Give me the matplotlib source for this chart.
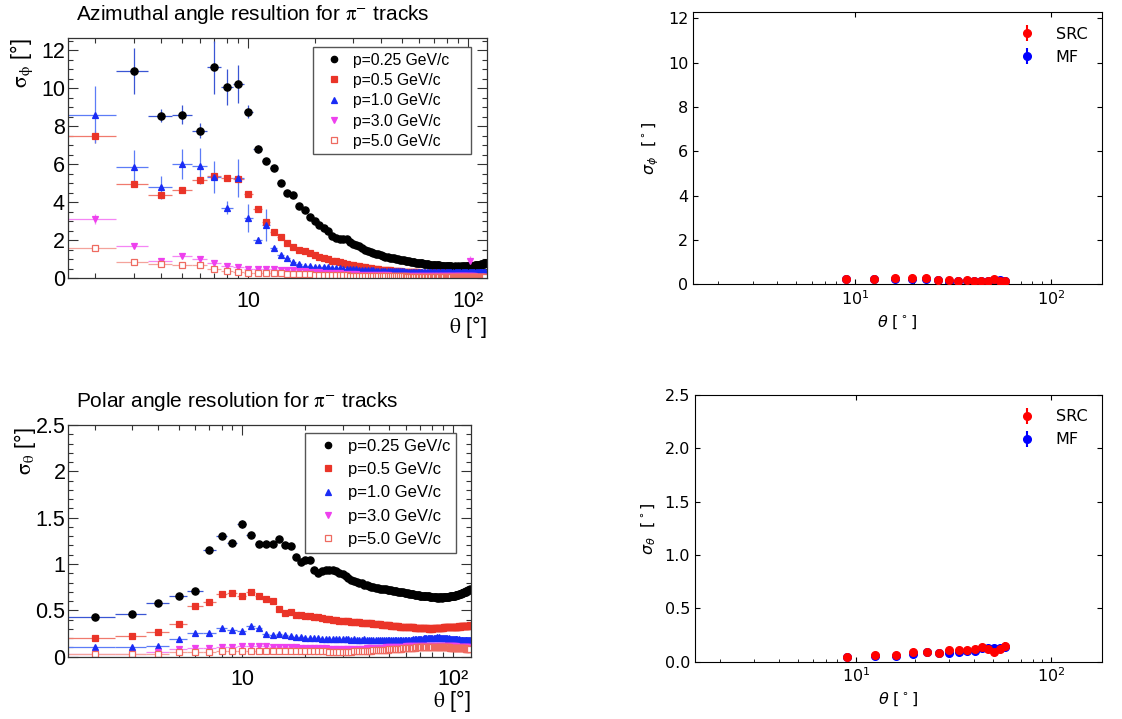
import numpy as np
import matplotlib
matplotlib.use('Agg')
import matplotlib.pyplot as plt
from matplotlib.lines import Line2D
from matplotlib.ticker import (FixedLocator, LogLocator, MultipleLocator,
                               FuncFormatter, NullFormatter)

# ---------------- left column: pi- resolution vs theta (1 deg bins) ----------------
theta_bins = list(range(2, 121))
momenta = ['p=0.25 GeV/c', 'p=0.5 GeV/c', 'p=1.0 GeV/c', 'p=3.0 GeV/c', 'p=5.0 GeV/c']

nan = float('nan')

# azimuthal resolution sigma_phi [deg]
phi_p025 = [nan, 10.9, 8.55, 8.6, 7.75, 11.1, 10.05, 10.2, 8.75, 6.8,
            6.15, 5.77, 5.0, 4.45, 4.35, 3.8, 3.6, 3.2, 3.0, 2.8,
            2.65, 2.45, 2.2, 2.12, 2.08, 2.06, 2.03, 1.92, 1.79, 1.73,
            1.66, 1.58, 1.47, 1.42, 1.38, 1.33, 1.28, 1.24, 1.2, 1.15,
            1.12, 1.1, 1.08, 1.05, 1.03, 1.0, 0.98, 0.96, 0.95, 0.93,
            0.91, 0.89, 0.88, 0.86, 0.85, 0.83, 0.81, 0.8, 0.79, 0.78,
            0.77, 0.75, 0.74, 0.73, 0.72, 0.71, 0.7, 0.69, 0.68, 0.68,
            0.67, 0.66, 0.66, 0.65, 0.64, 0.64, 0.63, 0.63, 0.62, 0.62,
            0.61, 0.61, 0.61, 0.6, 0.6, 0.61, 0.6, 0.6, 0.61, 0.6,
            0.6, 0.61, 0.6, 0.61, 0.61, 0.6, 0.61, 0.62, 0.61, 0.62,
            0.62, 0.63, 0.63, 0.64, 0.64, 0.65, 0.66, 0.66, 0.67, 0.68,
            0.69, 0.7, 0.71, 0.72, 0.73, 0.75, 0.76, 0.78, 0.8]
phi_p05 = [7.45, 4.97, 4.37, 4.62, 5.16, 5.35, 5.25, 5.23, 4.42, 3.62,
           2.96, 2.43, 2.15, 1.85, 1.62, 1.5, 1.4, 1.3, 1.2, 1.12,
           1.05, 0.98, 0.92, 0.88, 0.83, 0.78, 0.74, 0.7, 0.67, 0.64,
           0.61, 0.58, 0.56, 0.53, 0.51, 0.49, 0.47, 0.46, 0.44, 0.43,
           0.42, 0.41, 0.4, 0.39, 0.38, 0.37, 0.36, 0.35, 0.34, 0.34,
           0.33, 0.33, 0.32, 0.32, 0.31, 0.31, 0.3, 0.3, 0.29, 0.29,
           0.29, 0.28, 0.28, 0.28, 0.27, 0.27, 0.27, 0.26, 0.26, 0.26,
           0.26, 0.25, 0.25, 0.25, 0.25, 0.24, 0.24, 0.24, 0.24, 0.24,
           0.23, 0.23, 0.23, 0.23, 0.23, 0.23, 0.22, 0.22, 0.22, 0.22,
           0.22, 0.22, 0.22, 0.22, 0.21, 0.21, 0.21, 0.21, 0.21, 0.21,
           0.21, 0.21, 0.21, 0.21, 0.2, 0.2, 0.2, 0.2, 0.2, 0.2,
           0.2, 0.2, 0.2, 0.2, 0.2, 0.2, 0.2, 0.2, 0.2]
phi_p10 = [8.6, 5.85, 4.77, 6.0, 5.9, 5.3, 3.7, 5.25, 3.15, 2.0,
           2.8, 1.56, 1.21, 1.04, 0.86, 0.72, 0.65, 0.63, 0.6, 0.58,
           0.57, 0.56, 0.55, 0.54, 0.52, 0.5, 0.49, 0.47, 0.46, 0.45,
           0.44, 0.43, 0.42, 0.41, 0.4, 0.4, 0.39, 0.39, 0.38, 0.38,
           0.37, 0.37, 0.37, 0.36, 0.36, 0.36, 0.35, 0.35, 0.35, 0.35,
           0.34, 0.34, 0.34, 0.34, 0.33, 0.33, 0.33, 0.33, 0.33, 0.32,
           0.32, 0.32, 0.32, 0.32, 0.32, 0.31, 0.31, 0.31, 0.31, 0.31,
           0.31, 0.31, 0.31, 0.31, 0.3, 0.3, 0.3, 0.3, 0.3, 0.3,
           0.3, 0.31, 0.3, 0.3, 0.29, 0.3, 0.3, 0.31, 0.3, 0.3,
           0.3, 0.29, 0.3, 0.3, 0.31, 0.3, 0.3, 0.3, 0.29, 0.3,
           0.3, 0.3, 0.31, 0.3, 0.3, 0.3, 0.29, 0.3, 0.3, 0.3,
           0.3, 0.3, 0.31, 0.3, 0.3, 0.3, 0.3, 0.3, 0.3]
phi_p30 = [3.1, 1.7, 0.91, 1.18, 1.02, 0.77, 0.63, 0.56, 0.49, 0.49,
           0.49, 0.46, 0.44, 0.42, 0.4, 0.38, 0.36, 0.34, 0.32, 0.3,
           0.28, 0.27, 0.26, 0.25, 0.24, 0.23, 0.22, 0.21, 0.2, 0.19,
           0.18, 0.18, 0.17, 0.17, 0.16, 0.16, 0.15, 0.15, 0.15, 0.14,
           0.14, 0.14, 0.13, 0.13, 0.13, 0.13, 0.12, 0.12, 0.12, 0.12,
           0.12, 0.11, 0.11, 0.11, 0.11, 0.11, 0.11, 0.1, 0.1, 0.1,
           0.1, 0.1, 0.1, 0.1, 0.1, 0.1, 0.1, 0.1, 0.1, 0.1,
           0.1, 0.1, 0.1, 0.1, 0.1, 0.1, 0.1, 0.1, 0.1, 0.1,
           0.1, 0.1, 0.09, 0.1, 0.09, 0.1, 0.09, 0.09, 0.1, 0.09,
           0.09, 0.09, 0.09, 0.09, 0.09, 0.09, 0.09, 0.09, 0.09, 0.09,
           0.9, 0.09, 0.09, 0.09, 0.08, 0.09, 0.08, 0.08, 0.08, 0.08,
           0.08, 0.08, 0.08, 0.08, 0.08, 0.08, 0.08, 0.08, 0.08]
phi_p50 = [1.6, 0.86, 0.75, 0.68, 0.67, 0.46, 0.35, 0.3, 0.25, 0.25,
           0.28, 0.25, 0.24, 0.23, 0.22, 0.21, 0.2, 0.19, 0.18, 0.17,
           0.16, 0.16, 0.15, 0.15, 0.14, 0.14, 0.14, 0.13, 0.13, 0.13,
           0.12, 0.12, 0.12, 0.11, 0.11, 0.11, 0.11, 0.1, 0.1, 0.1,
           0.1, 0.1, 0.1, 0.09, 0.09, 0.09, 0.09, 0.09, 0.09, 0.09,
           0.09, 0.08, 0.08, 0.08, 0.08, 0.08, 0.08, 0.08, 0.08, 0.08,
           0.08, 0.08, 0.08, 0.08, 0.08, 0.08, 0.08, 0.08, 0.07, 0.08,
           0.07, 0.08, 0.07, 0.07, 0.07, 0.07, 0.07, 0.07, 0.07, 0.07,
           0.07, 0.07, 0.07, 0.07, 0.07, 0.07, 0.07, 0.07, 0.07, 0.07,
           0.07, 0.07, 0.07, 0.07, 0.06, 0.07, 0.07, 0.06, 0.07, 0.06,
           0.06, 0.06, 0.06, 0.06, 0.06, 0.06, 0.06, 0.06, 0.06, 0.06,
           0.06, 0.06, 0.06, 0.06, 0.06, 0.06, 0.06, 0.06, 0.06]
# vertical errors read for the low-theta bins; later bins are too small to see
phi_err_head = [
    [nan, 1.2, 0.35, 0.5, 0.4, 1.4, 0.95, 1.0, 0.35, 0.2, 0.15, 0.1],
    [0.35, 0.2, 0.15, 0.1, 0.15, 0.15, 0.1, 0.1, 0.1, 0.1, 0.1],
    [1.5, 0.9, 0.6, 0.8, 0.95, 0.85, 0.35, 1.0, 0.75, 0.15, 0.85, 0.1],
    [0.25, 0.1, 0.08, 0.1, 0.08],
    [0.1, 0.05],
]
phi_err_tail = [0.05, 0.03, 0.03, 0.03, 0.03]
phi_outlier_err = (102, 0.25)   # p=3.0 point at theta=102

# polar resolution sigma_theta [deg]
th_p025 = [0.432, 0.457, 0.58, 0.66, 0.71, 1.15, 1.3, 1.23, 1.43, 1.31,
           1.22, 1.22, 1.22, 1.27, 1.21, 1.19, 1.08, 1.025, 1.04, 1.04,
           0.93, 0.9, 0.92, 0.935, 0.93, 0.94, 0.925, 0.9, 0.89, 0.87,
           0.85, 0.83, 0.82, 0.81, 0.8, 0.79, 0.775, 0.77, 0.76, 0.755,
           0.75, 0.745, 0.74, 0.735, 0.73, 0.73, 0.725, 0.72, 0.72, 0.715,
           0.71, 0.71, 0.705, 0.7, 0.7, 0.7, 0.695, 0.69, 0.69, 0.685,
           0.68, 0.68, 0.675, 0.675, 0.67, 0.67, 0.665, 0.665, 0.66, 0.66,
           0.66, 0.655, 0.655, 0.65, 0.65, 0.65, 0.645, 0.645, 0.64, 0.64,
           0.64, 0.64, 0.635, 0.64, 0.635, 0.64, 0.64, 0.635, 0.64, 0.64,
           0.64, 0.645, 0.64, 0.645, 0.645, 0.65, 0.65, 0.655, 0.655, 0.66,
           0.66, 0.665, 0.665, 0.67, 0.67, 0.675, 0.68, 0.68, 0.685, 0.69,
           0.69, 0.695, 0.7, 0.7, 0.705, 0.71, 0.715, 0.72, 0.725]
th_p05 = [0.2, 0.22, 0.266, 0.35, 0.547, 0.59, 0.68, 0.69, 0.66, 0.7,
          0.655, 0.62, 0.6, 0.51, 0.47, 0.48, 0.45, 0.45, 0.44, 0.435,
          0.43, 0.425, 0.42, 0.41, 0.405, 0.4, 0.395, 0.39, 0.39, 0.385,
          0.38, 0.375, 0.375, 0.37, 0.37, 0.365, 0.365, 0.36, 0.36, 0.36,
          0.355, 0.355, 0.35, 0.35, 0.345, 0.345, 0.34, 0.34, 0.34, 0.335,
          0.335, 0.33, 0.33, 0.33, 0.325, 0.325, 0.325, 0.32, 0.32, 0.32,
          0.315, 0.315, 0.315, 0.315, 0.31, 0.31, 0.31, 0.31, 0.31, 0.305,
          0.305, 0.305, 0.305, 0.305, 0.305, 0.3, 0.3, 0.305, 0.3, 0.305,
          0.305, 0.305, 0.305, 0.31, 0.305, 0.31, 0.31, 0.31, 0.31, 0.315,
          0.315, 0.315, 0.315, 0.32, 0.315, 0.32, 0.32, 0.32, 0.32, 0.325,
          0.32, 0.325, 0.325, 0.325, 0.325, 0.33, 0.325, 0.33, 0.33, 0.33,
          0.33, 0.33, 0.335, 0.33, 0.335, 0.335, 0.335, 0.335, 0.34]
th_p10 = [0.104, 0.108, 0.12, 0.19, 0.26, 0.25, 0.305, 0.29, 0.28, 0.335,
          0.305, 0.245, 0.235, 0.245, 0.23, 0.22, 0.215, 0.21, 0.205, 0.2,
          0.2, 0.2, 0.195, 0.195, 0.195, 0.19, 0.19, 0.19, 0.19, 0.19,
          0.19, 0.185, 0.19, 0.185, 0.185, 0.185, 0.19, 0.185, 0.185, 0.185,
          0.185, 0.18, 0.185, 0.18, 0.18, 0.18, 0.18, 0.18, 0.18, 0.18,
          0.18, 0.18, 0.175, 0.18, 0.175, 0.18, 0.18, 0.18, 0.18, 0.185,
          0.185, 0.185, 0.185, 0.19, 0.19, 0.19, 0.19, 0.195, 0.195, 0.195,
          0.195, 0.2, 0.2, 0.2, 0.2, 0.2, 0.205, 0.2, 0.205, 0.205,
          0.205, 0.205, 0.21, 0.205, 0.21, 0.205, 0.205, 0.2, 0.205, 0.2,
          0.2, 0.2, 0.2, 0.195, 0.2, 0.195, 0.195, 0.195, 0.19, 0.195,
          0.19, 0.19, 0.19, 0.19, 0.185, 0.19, 0.185, 0.185, 0.185, 0.185,
          0.185, 0.18, 0.18, 0.18, 0.18, 0.18, 0.18, 0.18, 0.18]
th_p30 = [0.03, 0.03, 0.045, 0.08, 0.09, 0.095, 0.1, 0.1, 0.11, 0.11,
          0.12, 0.11, 0.105, 0.1, 0.1, 0.1, 0.1, 0.095, 0.095, 0.095,
          0.09, 0.09, 0.09, 0.09, 0.085, 0.085, 0.085, 0.085, 0.08, 0.08,
          0.08, 0.08, 0.08, 0.085, 0.085, 0.085, 0.085, 0.09, 0.09, 0.09,
          0.09, 0.09, 0.095, 0.095, 0.095, 0.095, 0.1, 0.1, 0.1, 0.1,
          0.1, 0.1, 0.1, 0.105, 0.105, 0.105, 0.105, 0.105, 0.11, 0.11,
          0.11, 0.11, 0.11, 0.11, 0.115, 0.115, 0.115, 0.115, 0.115, 0.12,
          0.12, 0.12, 0.12, 0.12, 0.12, 0.12, 0.12, 0.12, 0.12, 0.12,
          0.12, 0.12, 0.12, 0.12, 0.12, 0.12, 0.12, 0.12, 0.115, 0.115,
          0.115, 0.115, 0.115, 0.115, 0.115, 0.11, 0.11, 0.11, 0.11, 0.11,
          0.11, 0.11, 0.105, 0.105, 0.105, 0.105, 0.105, 0.1, 0.1, 0.1,
          0.1, 0.1, 0.1, 0.1, 0.1, 0.1, 0.1, 0.1, 0.1]
th_p50 = [0.03, 0.03, 0.03, 0.045, 0.055, 0.055, 0.06, 0.06, 0.065, 0.065,
          0.065, 0.065, 0.065, 0.065, 0.065, 0.065, 0.06, 0.06, 0.06, 0.06,
          0.06, 0.06, 0.06, 0.06, 0.055, 0.055, 0.055, 0.055, 0.055, 0.055,
          0.055, 0.055, 0.06, 0.06, 0.06, 0.06, 0.065, 0.065, 0.065, 0.065,
          0.07, 0.07, 0.07, 0.07, 0.075, 0.075, 0.075, 0.075, 0.08, 0.08,
          0.08, 0.08, 0.085, 0.085, 0.085, 0.085, 0.09, 0.09, 0.09, 0.09,
          0.09, 0.095, 0.095, 0.095, 0.095, 0.1, 0.1, 0.1, 0.1, 0.1,
          0.1, 0.1, 0.105, 0.105, 0.105, 0.105, 0.105, 0.105, 0.105, 0.105,
          0.105, 0.105, 0.105, 0.105, 0.105, 0.1, 0.1, 0.1, 0.1, 0.1,
          0.1, 0.1, 0.1, 0.1, 0.1, 0.095, 0.095, 0.095, 0.095, 0.095,
          0.095, 0.095, 0.09, 0.09, 0.09, 0.09, 0.09, 0.09, 0.09, 0.09,
          0.09, 0.09, 0.09, 0.085, 0.085, 0.085, 0.085, 0.085, 0.085]
th_err_head = [
    [0.015, 0.015, 0.015, 0.02, 0.02, 0.025, 0.03, 0.03, 0.04, 0.03],
    [0.01, 0.01, 0.01, 0.015, 0.015, 0.015, 0.015, 0.015],
    [0.01, 0.01, 0.01, 0.015, 0.015, 0.015, 0.015, 0.015],
    [0.01, 0.01, 0.01],
    [0.01, 0.01],
]
th_err_tail = [0.012, 0.008, 0.008, 0.006, 0.006]

# ---------------- right column: SRC vs MF ----------------
theta_cmp = [9, 12.5, 16, 19.5, 23, 26.5, 30, 33.5, 37, 40.5, 44, 47.5, 51, 54.5, 58]
sphi_src = [0.24, 0.25, 0.30, 0.28, 0.27, 0.19, 0.21, 0.16, 0.18, 0.16, 0.16, 0.16, 0.24, 0.15, 0.16]
sphi_mf = [0.23, 0.24, 0.25, 0.26, 0.26, 0.20, 0.10, 0.17, 0.14, 0.15, 0.16, 0.16, 0.18, 0.20, 0.16]
sphi_src_err = [0.02, 0.02, 0.03, 0.02, 0.02, 0.02, 0.03, 0.02, 0.02, 0.02, 0.02, 0.02, 0.04, 0.02, 0.02]
sphi_mf_err = [0.02, 0.02, 0.02, 0.02, 0.02, 0.02, 0.02, 0.02, 0.02, 0.02, 0.02, 0.02, 0.02, 0.03, 0.02]
sth_src = [0.047, 0.06, 0.063, 0.088, 0.094, 0.084, 0.11, 0.107, 0.107, 0.119, 0.14, 0.12, 0.094, 0.115, 0.147]
sth_mf = [0.047, 0.054, 0.056, 0.07, 0.088, 0.08, 0.077, 0.09, 0.104, 0.1, 0.125, 0.13, 0.13, 0.13, 0.14]
sth_src_err = [0.005, 0.006, 0.006, 0.01, 0.008, 0.008, 0.012, 0.01, 0.01, 0.012, 0.03, 0.012, 0.012, 0.015, 0.035]
sth_mf_err = [0.005, 0.005, 0.005, 0.008, 0.008, 0.008, 0.01, 0.01, 0.01, 0.01, 0.015, 0.012, 0.012, 0.015, 0.015]

# ROOT-like marker styles for the five momenta
styles = [
    dict(marker='o', mfc='black', mec='black', ecolor='#3a56d4', ms=5.2),
    dict(marker='s', mfc='#ea3428', mec='#ea3428', ecolor='#f07a6e', ms=4.6),
    dict(marker='^', mfc='#1a2cf5', mec='#1a2cf5', ecolor='#5c7cf7', ms=4.6),
    dict(marker='v', mfc='#ee40ee', mec='#ee40ee', ecolor='#f585f5', ms=4.6),
    dict(marker='s', mfc='white', mec='#ee6a60', ecolor='#f4a39b', ms=4.6),
]

ROOT_FONT = ['Liberation Sans', 'DejaVu Sans']


def full_err(head, tail):
    return head + [tail] * (len(theta_bins) - len(head))


def root_panel(ax, series, err_heads, err_tails, ymax, ymajor, yminor,
               title, title_y, ylab, ylab_xy, xlab_y, leg_box, leg_fs, leg_ls):
    for vals, head, tail, st in zip(series, err_heads, err_tails, styles):
        yerr = full_err(head, tail)
        if ax is ax_phi and st['marker'] == 'v':
            yerr[theta_bins.index(phi_outlier_err[0])] = phi_outlier_err[1]
        ax.errorbar(theta_bins, vals, xerr=0.5, yerr=yerr, fmt=st['marker'],
                    ms=st['ms'], mfc=st['mfc'], mec=st['mec'], mew=0.9,
                    ecolor=st['ecolor'], elinewidth=0.9, capsize=0)
    ax.set_xscale('log')
    ax.set_xlim(1.5, 122)
    ax.set_ylim(0, ymax)
    ax.xaxis.set_major_locator(FixedLocator([10, 100]))
    ax.xaxis.set_major_formatter(FuncFormatter(
        lambda v, p: {10: '10', 100: '10\u00b2'}.get(int(round(v)), '')))
    ax.xaxis.set_minor_locator(LogLocator(base=10, subs=range(2, 10), numticks=20))
    ax.xaxis.set_minor_formatter(NullFormatter())
    ax.yaxis.set_major_locator(MultipleLocator(ymajor))
    ax.yaxis.set_minor_locator(MultipleLocator(yminor))
    ax.yaxis.set_major_formatter(FuncFormatter(lambda v, p: '%g' % v))
    ax.tick_params(which='both', direction='in', top=True, right=True,
                   labelsize=15.5, color='#333333', width=0.8)
    ax.tick_params(which='major', length=7)
    ax.tick_params(which='minor', length=3.5)
    ax.tick_params(axis='x', pad=9)
    ax.tick_params(axis='y', pad=2)
    for lab in ax.get_xticklabels() + ax.get_yticklabels():
        lab.set_fontfamily(ROOT_FONT)
    for sp in ax.spines.values():
        sp.set_linewidth(0.9)
        sp.set_color('#333333')

    fig.text(76 / 1122, title_y, title, ha='left', va='center', fontsize=15,
             family=ROOT_FONT, math_fontfamily='stix')
    ax.text(ylab_xy[0], ylab_xy[1], ylab, transform=ax.transAxes, rotation=90,
            ha='center', va='top', fontsize=15.5, family=ROOT_FONT,
            math_fontfamily='stix')
    ax.text(1.0, xlab_y, '$\\mathrm{\\theta}$ [\u00b0]',
            transform=ax.transAxes, ha='right', va='center', fontsize=15.5,
            family=ROOT_FONT, math_fontfamily='stix')

    handles = [Line2D([], [], ls='none', marker=st['marker'], ms=st['ms'] - 0.6,
                      mfc=st['mfc'], mec=st['mec'], mew=0.9) for st in styles]
    leg = ax.legend(handles, momenta, loc='upper left', bbox_to_anchor=leg_box,
                    mode='expand', borderaxespad=0, borderpad=0.35,
                    handlelength=2.0, handletextpad=0.2, labelspacing=leg_ls,
                    numpoints=1, fancybox=False, framealpha=1, edgecolor='#555555',
                    prop=dict(family=ROOT_FONT, size=leg_fs))
    leg.get_frame().set_linewidth(1.0)


def cmp_panel(ax, src, mf, src_err, mf_err, ymax, ylab):
    ax.errorbar(theta_cmp, src, yerr=src_err, fmt='o', color='red', ms=5.5,
                elinewidth=1.5, label='SRC', zorder=3)
    ax.errorbar(theta_cmp, mf, yerr=mf_err, fmt='o', color='blue', ms=5.5,
                elinewidth=1.5, label='MF', zorder=2)
    ax.set_xscale('log')
    ax.set_xlim(1.49, 181)
    ax.set_ylim(0, ymax)
    ax.tick_params(which='both', direction='in', labelsize=11.5)
    ax.tick_params(which='major', top=True, right=True)
    ax.set_xlabel(r'$\theta$ [$^\circ$]', fontsize=11.5)
    ax.set_ylabel(ylab, fontsize=11.5, labelpad=5)
    ax.legend(frameon=False, fontsize=11.5)


fig = plt.figure(figsize=(11.22, 7.19), dpi=100)
ax_phi = fig.add_axes([0.0603, 0.6133, 0.3737, 0.3338])
ax_th = fig.add_axes([0.0609, 0.0867, 0.3589, 0.3222])
ax_rphi = fig.add_axes([0.6179, 0.6046, 0.3640, 0.3783])
ax_rth = fig.add_axes([0.6194, 0.0797, 0.3625, 0.3709])

root_panel(ax_phi, [phi_p025, phi_p05, phi_p10, phi_p30, phi_p50],
           phi_err_head, phi_err_tail, 12.63, 2, 0.5,
           r'Azimuthal angle resultion for $\mathrm{\pi}^{-}$ tracks', 1 - 14 / 719,
           '$\\mathrm{\\sigma}_{\\mathrm{\\phi}}$ [\u00b0]', (-0.109, 1.0), -0.204,
           (0.585, 0.9625, 0.377, 0.0), 11.3, 0.34)
root_panel(ax_th, [th_p025, th_p05, th_p10, th_p30, th_p50],
           th_err_head, th_err_tail, 2.5, 0.5, 0.1,
           r'Polar angle resolution for $\mathrm{\pi}^{-}$ tracks', 1 - 402 / 719,
           '$\\mathrm{\\sigma}_{\\mathrm{\\theta}}$ [\u00b0]', (-0.1075, 0.991), -0.193,
           (0.588, 0.9655, 0.375, 0.0), 12, 0.5)

cmp_panel(ax_rphi, sphi_src, sphi_mf, sphi_src_err, sphi_mf_err, 12.27,
          r'$\sigma_\phi$  [$^\circ$]')
cmp_panel(ax_rth, sth_src, sth_mf, sth_src_err, sth_mf_err, 2.5,
          r'$\sigma_\theta$  [$^\circ$]')

fig.savefig('out.png', dpi=100)
